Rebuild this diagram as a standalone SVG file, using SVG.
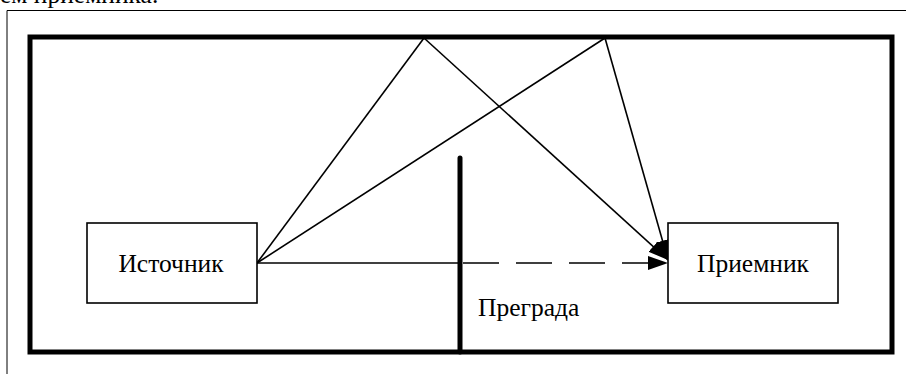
<svg xmlns="http://www.w3.org/2000/svg" width="906" height="374" viewBox="0 0 906 374">
<style>
.t{font-family:"Liberation Serif","Times New Roman",serif;font-size:25.5px;fill:#000}
.ln{stroke:#000;stroke-width:1.6;fill:none}
.box{fill:#fff;stroke:#000;stroke-width:1.6}
</style>
<defs>
<marker id="ah" markerUnits="userSpaceOnUse" markerWidth="22" markerHeight="16" refX="20" refY="7" orient="auto">
<path d="M0,0 L20,7 L0,14 z" fill="#000"/>
</marker>
</defs>
<rect width="906" height="374" fill="#fff"/>
<text x="0" y="3" class="t" font-size="20">ем приемника.</text>
<g id="page-frame">
<path d="M7,374 V10.5 H906" fill="none" stroke="#000" stroke-width="1"/>
</g>
<g id="room">
<rect x="30" y="37" width="862" height="315" fill="none" stroke="#000" stroke-width="5"/>
</g>
<g id="connectors">
<path class="ln" d="M257,263 L424,38"/>
<path class="ln" d="M257,263 L605,38"/>
<path class="ln" d="M424,38 L668,260" marker-end="url(#ah)"/>
<path class="ln" d="M605,38 L668,260" marker-end="url(#ah)"/>
<path class="ln" d="M257,263 H458"/>
<path class="ln" d="M463,263 H668" stroke-dasharray="36 17" marker-end="url(#ah)"/>
</g>
<g id="barrier">
<line x1="460" y1="158" x2="460" y2="352" stroke="#000" stroke-width="5" stroke-linecap="round"/>
<text x="478" y="316" class="t">Преграда</text>
</g>
<g id="source">
<rect x="87" y="223" width="170" height="80" class="box"/>
<text x="171" y="272" class="t" text-anchor="middle">Источник</text>
</g>
<g id="receiver">
<rect x="668" y="223" width="170" height="80" class="box"/>
<text x="753" y="272" class="t" text-anchor="middle">Приемник</text>
</g>
</svg>
